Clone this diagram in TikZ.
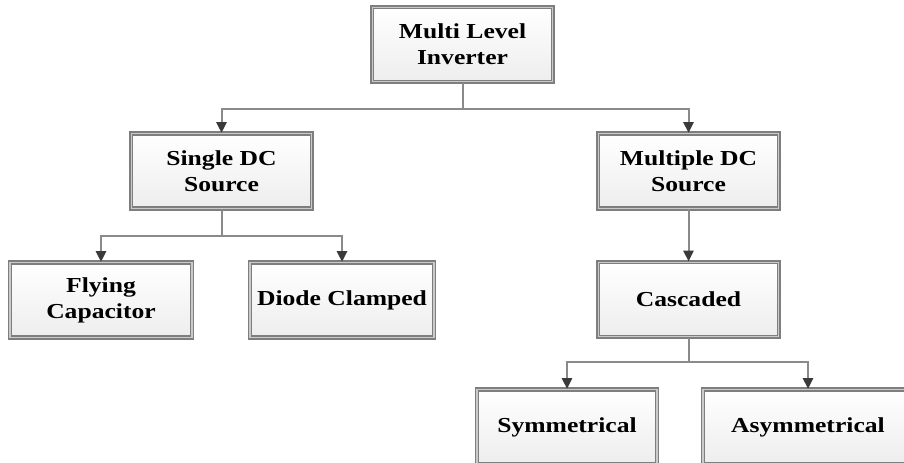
\documentclass[tikz,border=0pt]{standalone}
\usepackage{fontspec}
\setmainfont{Liberation Serif}[FakeStretch=1.2]
\usetikzlibrary{arrows.meta}
\definecolor{boxline}{HTML}{7E7E7E}
\definecolor{boxinner}{HTML}{CACACA}
\definecolor{conn}{HTML}{8A8A8A}
\definecolor{tipc}{HTML}{3A3A3A}
\begin{document}
\begin{tikzpicture}[x=0.75pt,y=-0.75pt,
  box/.style={draw=boxline, double=boxinner, double distance=0.9pt, line width=1.2pt,
    top color=white, bottom color=black!7,
    minimum height=56pt, align=center, inner sep=2pt,
    font=\fontsize{16}{19.5}\selectfont\bfseries},
  conline/.style={draw=conn, line width=1.5pt},
  arr/.style={conline, -{Triangle[width=7.5pt,length=8pt,fill=tipc,color=tipc]}}]
\useasboundingbox (0,0) rectangle (904,463);
\node[box, minimum width=135.5pt] (top) at (462.5,44.5) {Multi Level\\Inverter};
\node[box, minimum width=135.5pt] (single) at (221.5,171) {Single DC\\Source};
\node[box, minimum width=135.5pt] (multiple) at (688.5,171) {Multiple DC\\Source};
\node[box, minimum width=136.5pt] (flying) at (101,300) {Flying\\Capacitor};
\node[box, minimum width=138pt] (diode) at (342,300) {Diode Clamped};
\node[box, minimum width=135.5pt] (casc) at (688.5,299.5) {Cascaded};
\node[box, minimum width=135pt] (sym) at (567,427) {Symmetrical};
\node[box, minimum width=157.5pt] (asym) at (808,427) {Asymmetrical};
\coordinate (j1) at (462.5,109);
\coordinate (j2) at (221.5,236);
\coordinate (j3) at (688.5,362);
\draw[conline] (top.south) -- (j1);
\draw[arr] (j1) -| (single.north);
\draw[arr] (j1) -| (multiple.north);
\draw[conline] (single.south) -- (j2);
\draw[arr] (j2) -| (flying.north);
\draw[arr] (j2) -| (diode.north);
\draw[arr] (multiple.south) -- (casc.north);
\draw[conline] (casc.south) -- (j3);
\draw[arr] (j3) -| (sym.north);
\draw[arr] (j3) -| (asym.north);
\end{tikzpicture}
\end{document}
